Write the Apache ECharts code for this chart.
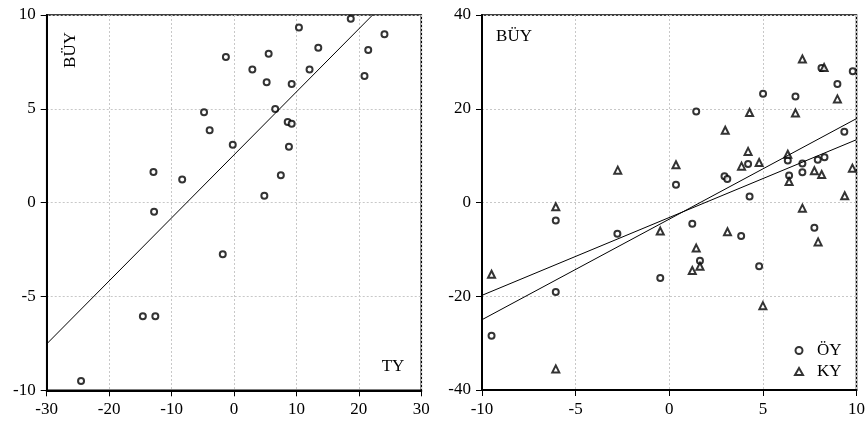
<!DOCTYPE html>
<html>
<head>
<meta charset="utf-8">
<script src="https://cdn.jsdelivr.net/npm/echarts@6/dist/echarts.min.js"></script>
<style>
  html, body { margin: 0; padding: 0; background: #fff; }
  #chart { width: 868px; height: 423px; }
</style>
</head>
<body>
<div id="chart"></div>
<script>
// left panel: TY (x) vs BÜY (y)
var tyPoints = [
  [-1.3, 7.76], [-4.8, 4.82], [-3.9, 3.86], [-0.2, 3.09], [-12.9, 1.63], [-8.3, 1.23],
  [10.4, 9.34], [18.7, 9.8], [24.1, 8.97], [5.55, 7.94], [13.5, 8.26], [21.5, 8.14],
  [2.94, 7.09], [12.1, 7.1], [20.9, 6.75], [5.23, 6.41], [9.24, 6.32], [6.6, 4.99],
  [8.6, 4.3], [9.24, 4.21], [8.8, 2.98], [7.5, 1.46], [4.86, 0.37], [-12.8, -0.48],
  [-1.8, -2.75], [-14.6, -6.05], [-12.6, -6.05], [-24.5, -9.5]
];
var tyFit = [[-30, -7.53], [22.2, 10]];

// right panel: ÖY and KY (x) vs BÜY (y)
var oyPoints = [
  [0.36, 3.78], [1.44, 19.4], [5.01, 23.2], [8.13, 28.7], [9.8, 28.0], [6.74, 22.6],
  [8.98, 25.3], [9.35, 15.1], [6.33, 8.96], [4.21, 8.19], [7.11, 8.32], [7.93, 9.1],
  [8.29, 9.68], [7.11, 6.48], [6.4, 5.76], [2.95, 5.6], [3.1, 5.0], [4.29, 1.28],
  [-6.06, -3.83], [-2.77, -6.68], [-0.48, -16.1], [-6.06, -19.1], [-9.49, -28.4],
  [1.23, -4.54], [3.84, -7.17], [1.64, -12.4], [4.8, -13.6], [7.75, -5.4]
];
var kyPoints = [
  [-2.75, 6.9], [0.36, 8.04], [-6.06, -0.9], [2.99, 15.4], [4.29, 19.2], [7.11, 30.6],
  [8.27, 28.8], [8.98, 22.1], [6.74, 19.1], [4.21, 10.9], [6.33, 10.3], [3.86, 7.76],
  [4.8, 8.53], [7.75, 6.76], [8.14, 5.97], [6.4, 4.48], [9.78, 7.33], [9.37, 1.43],
  [7.11, -1.2], [-0.48, -6.1], [-9.49, -15.3], [-6.06, -35.5], [3.11, -6.25],
  [1.44, -9.73], [1.64, -13.6], [1.23, -14.5], [5.0, -22.0], [7.95, -8.4]
];
var oyFit = [[-10, -19.8], [10, 13.4]];
var kyFit = [[-10, -25.0], [10, 17.9]];

var serif = "'Liberation Serif', 'DejaVu Serif', serif";

function valueAxis(idx, min, max, step) {
  return {
    gridIndex: idx, type: "value", min: min, max: max, interval: step,
    axisLine: { show: true, onZero: false, lineStyle: { color: "#000", width: 2 } },
    axisTick: { show: true, length: 6, lineStyle: { color: "#000", width: 1 } },
    axisLabel: { color: "#000", fontSize: 17, fontFamily: serif, margin: 11 },
    splitLine: { show: true, lineStyle: { color: "#c8c8c8", type: [2, 2], width: 1 } }
  };
}

var chart = echarts.init(document.getElementById("chart"));
chart.setOption({
  animation: false,
  backgroundColor: "#fff",
  grid: [
    { left: 46.7, top: 15, width: 374.6, height: 375.3, show: true, borderColor: "#000", borderWidth: 1.5 },
    { left: 482, top: 15, width: 375, height: 375, show: true, borderColor: "#000", borderWidth: 1.5 }
  ],
  xAxis: [valueAxis(0, -30, 30, 10), valueAxis(1, -10, 10, 5)],
  yAxis: [valueAxis(0, -10, 10, 5), valueAxis(1, -40, 40, 20)],
  legend: {
    orient: "vertical",
    left: 789, top: 337,
    itemWidth: 8, itemHeight: 7, itemGap: 4,
    textStyle: { color: "#000", fontSize: 17, fontFamily: serif, padding: [0, 0, 0, 9] },
    data: ["ÖY", "KY"]
  },
  graphic: [
    { type: "text", x: 71, y: 50, rotation: Math.PI / 2,
      style: { text: "BÜY", fontSize: 17, fontFamily: serif, fill: "#000", align: "center", verticalAlign: "middle" } },
    { type: "text", x: 393, y: 367,
      style: { text: "TY", fontSize: 17, fontFamily: serif, fill: "#000", align: "center", verticalAlign: "middle" } },
    { type: "text", x: 514, y: 37,
      style: { text: "BÜY", fontSize: 17, fontFamily: serif, fill: "#000", align: "center", verticalAlign: "middle" } }
  ],
  series: [
    { name: "TY", type: "scatter", xAxisIndex: 0, yAxisIndex: 0, data: tyPoints,
      symbol: "emptyCircle", symbolSize: 6, itemStyle: { color: "#000", borderWidth: 1 } },
    { type: "line", xAxisIndex: 0, yAxisIndex: 0, data: tyFit, showSymbol: false, silent: true,
      lineStyle: { color: "#000", width: 1 } },
    { name: "ÖY", type: "scatter", xAxisIndex: 1, yAxisIndex: 1, data: oyPoints,
      symbol: "emptyCircle", symbolSize: 6, itemStyle: { color: "#000", borderWidth: 1 } },
    { name: "KY", type: "scatter", xAxisIndex: 1, yAxisIndex: 1, data: kyPoints,
      symbol: "emptyTriangle", symbolSize: 7, itemStyle: { color: "#000", borderWidth: 1 } },
    { type: "line", xAxisIndex: 1, yAxisIndex: 1, data: oyFit, showSymbol: false, silent: true,
      lineStyle: { color: "#000", width: 1 } },
    { type: "line", xAxisIndex: 1, yAxisIndex: 1, data: kyFit, showSymbol: false, silent: true,
      lineStyle: { color: "#000", width: 1 } }
  ]
});
</script>
</body>
</html>
